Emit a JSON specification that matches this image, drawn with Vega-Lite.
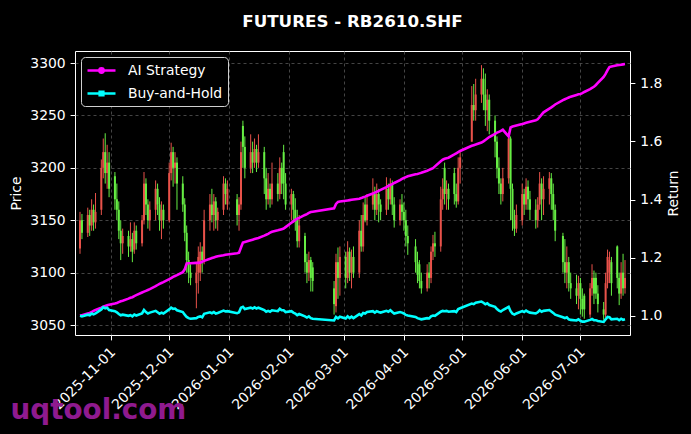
{
  "$schema": "https://vega.github.io/schema/vega-lite/v6.json",
  "width": 555,
  "height": 284,
  "autosize": {"type": "none"},
  "padding": {"left": 75, "top": 51, "right": 61, "bottom": 99},
  "background": "#000000",
  "title": {"text": "FUTURES - RB2610.SHF", "color": "#ffffff", "fontSize": 16.7, "fontWeight": "bold", "font": "DejaVu Sans", "anchor": "middle", "frame": "group", "baseline": "alphabetic", "offset": 7},
  "config": {
    "view": {"stroke": "#ffffff", "strokeWidth": 1},
    "font": "DejaVu Sans",
    "axis": {"labelColor": "#ffffff", "titleColor": "#ffffff", "tickColor": "#ffffff", "domain": false, "labelFont": "DejaVu Sans", "titleFont": "DejaVu Sans", "labelFontSize": 13.9, "titleFontSize": 13.9, "titleFontWeight": "normal", "tickSize": 4.9, "labelPadding": 4.9, "gridColor": "#555555", "gridDash": [3, 3], "gridWidth": 0.8}
  },
  "datasets": {
    "d": [
      {"d":"2025-10-16","o":3123,"h":3158,"l":3118,"c":3150,"a":1.000,"b":1.000},
      {"d":"2025-10-17","o":3150,"h":3156,"l":3132,"c":3138,"a":1.002,"b":0.998},
      {"d":"2025-10-20","o":3138,"h":3162,"l":3134,"c":3155,"a":1.008,"b":1.004},
      {"d":"2025-10-21","o":3155,"h":3160,"l":3135,"c":3145,"a":1.010,"b":1.002},
      {"d":"2025-10-22","o":3145,"h":3170,"l":3140,"c":3160,"a":1.013,"b":1.008},
      {"d":"2025-10-23","o":3160,"h":3165,"l":3140,"c":3148,"a":1.017,"b":1.005},
      {"d":"2025-10-24","o":3148,"h":3176,"l":3142,"c":3158,"a":1.020,"b":1.008},
      {"d":"2025-10-27","o":3160,"h":3208,"l":3155,"c":3200,"a":1.028,"b":1.022},
      {"d":"2025-10-28","o":3200,"h":3228,"l":3190,"c":3215,"a":1.031,"b":1.030},
      {"d":"2025-10-29","o":3215,"h":3233,"l":3185,"c":3195,"a":1.034,"b":1.026},
      {"d":"2025-10-30","o":3195,"h":3222,"l":3180,"c":3205,"a":1.036,"b":1.028},
      {"d":"2025-10-31","o":3205,"h":3215,"l":3172,"c":3180,"a":1.038,"b":1.020},
      {"d":"2025-11-03","o":3192,"h":3196,"l":3160,"c":3170,"a":1.042,"b":1.016},
      {"d":"2025-11-04","o":3170,"h":3185,"l":3150,"c":3160,"a":1.044,"b":1.012},
      {"d":"2025-11-05","o":3160,"h":3168,"l":3132,"c":3140,"a":1.047,"b":1.006},
      {"d":"2025-11-06","o":3140,"h":3150,"l":3112,"c":3128,"a":1.050,"b":1.002},
      {"d":"2025-11-07","o":3128,"h":3142,"l":3118,"c":3135,"a":1.052,"b":1.004},
      {"d":"2025-11-10","o":3135,"h":3140,"l":3115,"c":3125,"a":1.059,"b":1.000},
      {"d":"2025-11-11","o":3125,"h":3148,"l":3120,"c":3132,"a":1.062,"b":1.002},
      {"d":"2025-11-12","o":3132,"h":3138,"l":3110,"c":3120,"a":1.064,"b":0.998},
      {"d":"2025-11-13","o":3122,"h":3148,"l":3118,"c":3140,"a":1.068,"b":1.004},
      {"d":"2025-11-14","o":3140,"h":3145,"l":3122,"c":3128,"a":1.071,"b":1.001},
      {"d":"2025-11-17","o":3128,"h":3155,"l":3125,"c":3150,"a":1.080,"b":1.008},
      {"d":"2025-11-18","o":3150,"h":3196,"l":3146,"c":3185,"a":1.083,"b":1.020},
      {"d":"2025-11-19","o":3185,"h":3190,"l":3155,"c":3165,"a":1.086,"b":1.013},
      {"d":"2025-11-20","o":3165,"h":3170,"l":3142,"c":3150,"a":1.089,"b":1.008},
      {"d":"2025-11-21","o":3150,"h":3168,"l":3140,"c":3160,"a":1.092,"b":1.011},
      {"d":"2025-11-24","o":3160,"h":3188,"l":3150,"c":3180,"a":1.102,"b":1.017},
      {"d":"2025-11-25","o":3180,"h":3185,"l":3155,"c":3165,"a":1.106,"b":1.012},
      {"d":"2025-11-26","o":3165,"h":3172,"l":3140,"c":3150,"a":1.110,"b":1.007},
      {"d":"2025-11-27","o":3150,"h":3168,"l":3132,"c":3160,"a":1.113,"b":1.011},
      {"d":"2025-11-28","o":3160,"h":3165,"l":3142,"c":3150,"a":1.116,"b":1.008},
      {"d":"2025-12-01","o":3150,"h":3205,"l":3148,"c":3195,"a":1.126,"b":1.022},
      {"d":"2025-12-02","o":3195,"h":3224,"l":3188,"c":3215,"a":1.130,"b":1.028},
      {"d":"2025-12-03","o":3215,"h":3220,"l":3182,"c":3200,"a":1.134,"b":1.024},
      {"d":"2025-12-04","o":3200,"h":3215,"l":3185,"c":3205,"a":1.137,"b":1.025},
      {"d":"2025-12-05","o":3205,"h":3210,"l":3160,"c":3185,"a":1.140,"b":1.019},
      {"d":"2025-12-08","o":3185,"h":3192,"l":3158,"c":3165,"a":1.150,"b":1.013},
      {"d":"2025-12-09","o":3165,"h":3171,"l":3130,"c":3138,"a":1.160,"b":1.004},
      {"d":"2025-12-10","o":3138,"h":3145,"l":3100,"c":3112,"a":1.180,"b":0.996},
      {"d":"2025-12-11","o":3112,"h":3120,"l":3090,"c":3100,"a":1.181,"b":0.992},
      {"d":"2025-12-12","o":3100,"h":3108,"l":3088,"c":3095,"a":1.181,"b":0.990},
      {"d":"2025-12-15","o":3090,"h":3110,"l":3066,"c":3100,"a":1.182,"b":0.992},
      {"d":"2025-12-16","o":3100,"h":3125,"l":3080,"c":3115,"a":1.182,"b":0.996},
      {"d":"2025-12-17","o":3100,"h":3129,"l":3092,"c":3120,"a":1.183,"b":0.998},
      {"d":"2025-12-18","o":3120,"h":3125,"l":3100,"c":3112,"a":1.186,"b":0.995},
      {"d":"2025-12-19","o":3112,"h":3160,"l":3108,"c":3150,"a":1.189,"b":1.007},
      {"d":"2025-12-22","o":3150,"h":3175,"l":3140,"c":3165,"a":1.196,"b":1.012},
      {"d":"2025-12-23","o":3165,"h":3180,"l":3148,"c":3155,"a":1.199,"b":1.009},
      {"d":"2025-12-24","o":3155,"h":3175,"l":3140,"c":3168,"a":1.201,"b":1.013},
      {"d":"2025-12-25","o":3168,"h":3172,"l":3142,"c":3150,"a":1.203,"b":1.008},
      {"d":"2025-12-26","o":3150,"h":3162,"l":3140,"c":3158,"a":1.205,"b":1.010},
      {"d":"2025-12-29","o":3160,"h":3192,"l":3155,"c":3185,"a":1.208,"b":1.018},
      {"d":"2025-12-30","o":3185,"h":3190,"l":3165,"c":3175,"a":1.210,"b":1.015},
      {"d":"2025-12-31","o":3165,"h":3188,"l":3160,"c":3180,"a":1.211,"b":1.016},
      {"d":"2026-01-05","o":3170,"h":3175,"l":3145,"c":3155,"a":1.215,"b":1.009},
      {"d":"2026-01-06","o":3155,"h":3172,"l":3140,"c":3165,"a":1.217,"b":1.012},
      {"d":"2026-01-07","o":3165,"h":3225,"l":3160,"c":3215,"a":1.235,"b":1.028},
      {"d":"2026-01-08","o":3240,"h":3245,"l":3200,"c":3220,"a":1.252,"b":1.031},
      {"d":"2026-01-09","o":3220,"h":3230,"l":3190,"c":3200,"a":1.254,"b":1.023},
      {"d":"2026-01-12","o":3200,"h":3232,"l":3195,"c":3215,"a":1.260,"b":1.028},
      {"d":"2026-01-13","o":3215,"h":3225,"l":3195,"c":3205,"a":1.262,"b":1.025},
      {"d":"2026-01-14","o":3205,"h":3228,"l":3200,"c":3218,"a":1.264,"b":1.029},
      {"d":"2026-01-15","o":3218,"h":3222,"l":3196,"c":3205,"a":1.266,"b":1.025},
      {"d":"2026-01-16","o":3205,"h":3232,"l":3200,"c":3215,"a":1.268,"b":1.028},
      {"d":"2026-01-19","o":3215,"h":3220,"l":3175,"c":3190,"a":1.276,"b":1.020},
      {"d":"2026-01-20","o":3190,"h":3200,"l":3160,"c":3170,"a":1.279,"b":1.014},
      {"d":"2026-01-21","o":3170,"h":3195,"l":3165,"c":3180,"a":1.282,"b":1.017},
      {"d":"2026-01-22","o":3180,"h":3185,"l":3162,"c":3170,"a":1.286,"b":1.014},
      {"d":"2026-01-23","o":3170,"h":3205,"l":3165,"c":3185,"a":1.289,"b":1.019},
      {"d":"2026-01-26","o":3185,"h":3195,"l":3168,"c":3175,"a":1.294,"b":1.016},
      {"d":"2026-01-27","o":3175,"h":3210,"l":3170,"c":3200,"a":1.296,"b":1.024},
      {"d":"2026-01-28","o":3200,"h":3205,"l":3175,"c":3185,"a":1.298,"b":1.019},
      {"d":"2026-01-29","o":3215,"h":3222,"l":3170,"c":3185,"a":1.300,"b":1.019},
      {"d":"2026-01-30","o":3185,"h":3195,"l":3160,"c":3165,"a":1.305,"b":1.013},
      {"d":"2026-02-02","o":3165,"h":3180,"l":3150,"c":3175,"a":1.320,"b":1.016},
      {"d":"2026-02-03","o":3175,"h":3178,"l":3148,"c":3160,"a":1.325,"b":1.011},
      {"d":"2026-02-04","o":3160,"h":3171,"l":3140,"c":3150,"a":1.330,"b":1.008},
      {"d":"2026-02-05","o":3150,"h":3160,"l":3124,"c":3130,"a":1.334,"b":1.002},
      {"d":"2026-02-06","o":3130,"h":3155,"l":3124,"c":3145,"a":1.337,"b":1.006},
      {"d":"2026-02-09","o":3135,"h":3138,"l":3100,"c":3110,"a":1.347,"b":0.998},
      {"d":"2026-02-10","o":3110,"h":3118,"l":3090,"c":3100,"a":1.350,"b":0.994},
      {"d":"2026-02-11","o":3100,"h":3120,"l":3092,"c":3112,"a":1.354,"b":0.998},
      {"d":"2026-02-12","o":3112,"h":3115,"l":3082,"c":3095,"a":1.357,"b":0.992},
      {"d":"2026-02-13","o":3105,"h":3110,"l":3082,"c":3092,"a":1.358,"b":0.990},
      {"d":"2026-02-24","o":3085,"h":3092,"l":3060,"c":3070,"a":1.370,"b":0.984},
      {"d":"2026-02-25","o":3068,"h":3118,"l":3062,"c":3110,"a":1.385,"b":0.996},
      {"d":"2026-02-26","o":3110,"h":3124,"l":3075,"c":3095,"a":1.392,"b":0.991},
      {"d":"2026-02-27","o":3095,"h":3125,"l":3078,"c":3115,"a":1.393,"b":0.997},
      {"d":"2026-03-02","o":3115,"h":3120,"l":3085,"c":3095,"a":1.396,"b":0.991},
      {"d":"2026-03-03","o":3095,"h":3130,"l":3090,"c":3120,"a":1.397,"b":0.998},
      {"d":"2026-03-04","o":3120,"h":3124,"l":3092,"c":3100,"a":1.398,"b":0.992},
      {"d":"2026-03-05","o":3100,"h":3122,"l":3085,"c":3115,"a":1.399,"b":0.997},
      {"d":"2026-03-06","o":3115,"h":3125,"l":3095,"c":3100,"a":1.400,"b":0.992},
      {"d":"2026-03-09","o":3100,"h":3150,"l":3095,"c":3140,"a":1.403,"b":1.006},
      {"d":"2026-03-10","o":3140,"h":3155,"l":3120,"c":3125,"a":1.405,"b":1.001},
      {"d":"2026-03-11","o":3125,"h":3167,"l":3120,"c":3155,"a":1.408,"b":1.010},
      {"d":"2026-03-12","o":3165,"h":3172,"l":3148,"c":3150,"a":1.410,"b":1.008},
      {"d":"2026-03-13","o":3150,"h":3175,"l":3145,"c":3165,"a":1.413,"b":1.013},
      {"d":"2026-03-16","o":3165,"h":3190,"l":3160,"c":3175,"a":1.421,"b":1.016},
      {"d":"2026-03-17","o":3175,"h":3182,"l":3150,"c":3160,"a":1.424,"b":1.011},
      {"d":"2026-03-18","o":3160,"h":3185,"l":3155,"c":3175,"a":1.427,"b":1.016},
      {"d":"2026-03-19","o":3175,"h":3180,"l":3148,"c":3165,"a":1.430,"b":1.013},
      {"d":"2026-03-20","o":3165,"h":3170,"l":3150,"c":3158,"a":1.433,"b":1.011},
      {"d":"2026-03-23","o":3160,"h":3191,"l":3155,"c":3180,"a":1.443,"b":1.017},
      {"d":"2026-03-24","o":3180,"h":3185,"l":3160,"c":3170,"a":1.447,"b":1.014},
      {"d":"2026-03-25","o":3170,"h":3190,"l":3165,"c":3185,"a":1.450,"b":1.019},
      {"d":"2026-03-26","o":3185,"h":3188,"l":3155,"c":3165,"a":1.453,"b":1.013},
      {"d":"2026-03-27","o":3165,"h":3172,"l":3143,"c":3150,"a":1.457,"b":1.008},
      {"d":"2026-03-30","o":3150,"h":3170,"l":3145,"c":3165,"a":1.467,"b":1.013},
      {"d":"2026-03-31","o":3165,"h":3175,"l":3150,"c":3158,"a":1.471,"b":1.011},
      {"d":"2026-04-01","o":3158,"h":3167,"l":3140,"c":3150,"a":1.474,"b":1.008},
      {"d":"2026-04-02","o":3150,"h":3160,"l":3125,"c":3135,"a":1.477,"b":1.003},
      {"d":"2026-04-03","o":3135,"h":3145,"l":3117,"c":3128,"a":1.480,"b":1.001},
      {"d":"2026-04-07","o":3125,"h":3132,"l":3100,"c":3110,"a":1.487,"b":0.996},
      {"d":"2026-04-08","o":3110,"h":3120,"l":3090,"c":3098,"a":1.488,"b":0.992},
      {"d":"2026-04-09","o":3108,"h":3112,"l":3085,"c":3092,"a":1.490,"b":0.990},
      {"d":"2026-04-10","o":3092,"h":3100,"l":3080,"c":3085,"a":1.492,"b":0.988},
      {"d":"2026-04-13","o":3085,"h":3108,"l":3082,"c":3100,"a":1.499,"b":0.992},
      {"d":"2026-04-14","o":3100,"h":3110,"l":3085,"c":3095,"a":1.502,"b":0.991},
      {"d":"2026-04-15","o":3095,"h":3125,"l":3090,"c":3120,"a":1.505,"b":0.998},
      {"d":"2026-04-16","o":3120,"h":3136,"l":3112,"c":3128,"a":1.508,"b":1.001},
      {"d":"2026-04-17","o":3128,"h":3139,"l":3115,"c":3125,"a":1.514,"b":1.000},
      {"d":"2026-04-20","o":3125,"h":3182,"l":3120,"c":3170,"a":1.532,"b":1.014},
      {"d":"2026-04-21","o":3170,"h":3190,"l":3160,"c":3180,"a":1.537,"b":1.017},
      {"d":"2026-04-22","o":3200,"h":3205,"l":3165,"c":3175,"a":1.540,"b":1.016},
      {"d":"2026-04-23","o":3175,"h":3188,"l":3160,"c":3180,"a":1.542,"b":1.017},
      {"d":"2026-04-24","o":3180,"h":3185,"l":3160,"c":3170,"a":1.544,"b":1.014},
      {"d":"2026-04-27","o":3195,"h":3200,"l":3165,"c":3175,"a":1.555,"b":1.016},
      {"d":"2026-04-28","o":3175,"h":3185,"l":3162,"c":3168,"a":1.559,"b":1.013},
      {"d":"2026-04-29","o":3168,"h":3210,"l":3165,"c":3200,"a":1.563,"b":1.023},
      {"d":"2026-04-30","o":3200,"h":3215,"l":3185,"c":3210,"a":1.567,"b":1.026},
      {"d":"2026-05-06","o":3225,"h":3278,"l":3225,"c":3260,"a":1.585,"b":1.042},
      {"d":"2026-05-07","o":3260,"h":3280,"l":3245,"c":3255,"a":1.587,"b":1.040},
      {"d":"2026-05-08","o":3255,"h":3285,"l":3245,"c":3270,"a":1.589,"b":1.045},
      {"d":"2026-05-11","o":3270,"h":3298,"l":3262,"c":3285,"a":1.596,"b":1.049},
      {"d":"2026-05-12","o":3285,"h":3295,"l":3255,"c":3270,"a":1.600,"b":1.045},
      {"d":"2026-05-13","o":3270,"h":3290,"l":3240,"c":3255,"a":1.605,"b":1.040},
      {"d":"2026-05-14","o":3255,"h":3275,"l":3235,"c":3265,"a":1.610,"b":1.043},
      {"d":"2026-05-15","o":3265,"h":3270,"l":3232,"c":3245,"a":1.615,"b":1.037},
      {"d":"2026-05-18","o":3245,"h":3250,"l":3210,"c":3225,"a":1.626,"b":1.031},
      {"d":"2026-05-19","o":3225,"h":3230,"l":3190,"c":3200,"a":1.630,"b":1.023},
      {"d":"2026-05-20","o":3200,"h":3210,"l":3175,"c":3185,"a":1.633,"b":1.018},
      {"d":"2026-05-21","o":3185,"h":3190,"l":3165,"c":3175,"a":1.636,"b":1.015},
      {"d":"2026-05-22","o":3175,"h":3200,"l":3168,"c":3190,"a":1.640,"b":1.020},
      {"d":"2026-05-25","o":3190,"h":3234,"l":3185,"c":3228,"a":1.617,"b":1.031},
      {"d":"2026-05-26","o":3228,"h":3230,"l":3150,"c":3180,"a":1.648,"b":1.016},
      {"d":"2026-05-27","o":3180,"h":3185,"l":3140,"c":3150,"a":1.651,"b":1.007},
      {"d":"2026-05-28","o":3150,"h":3160,"l":3135,"c":3142,"a":1.653,"b":1.004},
      {"d":"2026-05-29","o":3142,"h":3165,"l":3138,"c":3155,"a":1.655,"b":1.008},
      {"d":"2026-06-01","o":3150,"h":3185,"l":3145,"c":3175,"a":1.660,"b":1.016},
      {"d":"2026-06-02","o":3175,"h":3180,"l":3155,"c":3165,"a":1.662,"b":1.013},
      {"d":"2026-06-03","o":3165,"h":3190,"l":3160,"c":3182,"a":1.664,"b":1.018},
      {"d":"2026-06-04","o":3182,"h":3188,"l":3160,"c":3170,"a":1.666,"b":1.014},
      {"d":"2026-06-05","o":3170,"h":3178,"l":3150,"c":3160,"a":1.668,"b":1.011},
      {"d":"2026-06-08","o":3160,"h":3170,"l":3142,"c":3150,"a":1.673,"b":1.008},
      {"d":"2026-06-09","o":3150,"h":3172,"l":3143,"c":3165,"a":1.676,"b":1.012},
      {"d":"2026-06-10","o":3165,"h":3196,"l":3160,"c":3185,"a":1.684,"b":1.019},
      {"d":"2026-06-11","o":3185,"h":3190,"l":3150,"c":3170,"a":1.692,"b":1.014},
      {"d":"2026-06-12","o":3170,"h":3192,"l":3155,"c":3180,"a":1.700,"b":1.017},
      {"d":"2026-06-15","o":3180,"h":3196,"l":3165,"c":3190,"a":1.713,"b":1.020},
      {"d":"2026-06-16","o":3190,"h":3195,"l":3160,"c":3175,"a":1.717,"b":1.015},
      {"d":"2026-06-17","o":3175,"h":3185,"l":3150,"c":3160,"a":1.722,"b":1.010},
      {"d":"2026-06-18","o":3160,"h":3165,"l":3130,"c":3140,"a":1.727,"b":1.004},
      {"d":"2026-06-22","o":3135,"h":3138,"l":3100,"c":3110,"a":1.742,"b":0.995},
      {"d":"2026-06-23","o":3110,"h":3132,"l":3090,"c":3100,"a":1.745,"b":0.992},
      {"d":"2026-06-24","o":3100,"h":3125,"l":3085,"c":3110,"a":1.748,"b":0.995},
      {"d":"2026-06-25","o":3110,"h":3115,"l":3082,"c":3090,"a":1.751,"b":0.988},
      {"d":"2026-06-26","o":3090,"h":3100,"l":3075,"c":3085,"a":1.754,"b":0.986},
      {"d":"2026-06-29","o":3085,"h":3098,"l":3070,"c":3078,"a":1.760,"b":0.984},
      {"d":"2026-06-30","o":3078,"h":3097,"l":3065,"c":3090,"a":1.762,"b":0.988},
      {"d":"2026-07-01","o":3090,"h":3095,"l":3060,"c":3075,"a":1.763,"b":0.983},
      {"d":"2026-07-02","o":3075,"h":3085,"l":3058,"c":3065,"a":1.766,"b":0.980},
      {"d":"2026-07-03","o":3078,"h":3080,"l":3056,"c":3065,"a":1.770,"b":0.980},
      {"d":"2026-07-06","o":3060,"h":3090,"l":3057,"c":3085,"a":1.780,"b":0.986},
      {"d":"2026-07-07","o":3085,"h":3108,"l":3078,"c":3095,"a":1.784,"b":0.989},
      {"d":"2026-07-08","o":3095,"h":3102,"l":3070,"c":3080,"a":1.788,"b":0.985},
      {"d":"2026-07-09","o":3095,"h":3100,"l":3075,"c":3080,"a":1.794,"b":0.985},
      {"d":"2026-07-10","o":3080,"h":3088,"l":3062,"c":3070,"a":1.801,"b":0.982},
      {"d":"2026-07-13","o":3065,"h":3072,"l":3055,"c":3060,"a":1.822,"b":0.979},
      {"d":"2026-07-14","o":3060,"h":3100,"l":3057,"c":3090,"a":1.832,"b":0.988},
      {"d":"2026-07-15","o":3090,"h":3122,"l":3085,"c":3115,"a":1.845,"b":0.996},
      {"d":"2026-07-16","o":3100,"h":3120,"l":3090,"c":3112,"a":1.856,"b":0.995},
      {"d":"2026-07-17","o":3110,"h":3115,"l":3078,"c":3090,"a":1.858,"b":0.988},
      {"d":"2026-07-20","o":3125,"h":3126,"l":3085,"c":3095,"a":1.862,"b":0.990},
      {"d":"2026-07-21","o":3095,"h":3100,"l":3069,"c":3080,"a":1.863,"b":0.985},
      {"d":"2026-07-22","o":3080,"h":3110,"l":3075,"c":3100,"a":1.864,"b":0.990},
      {"d":"2026-07-23","o":3100,"h":3118,"l":3078,"c":3085,"a":1.865,"b":0.986},
      {"d":"2026-07-24","o":3085,"h":3112,"l":3080,"c":3095,"a":1.866,"b":0.988}
    ]
  },
  "data": {"name": "d"},
  "encoding": {
    "x": {"field": "d", "type": "temporal", "scale": {"type": "utc", "domain": [{"year": 2025, "month": 10, "date": 16, "utc": true}, {"year": 2026, "month": 7, "date": 24, "utc": true}]}, "axis": {"title": "uqtool.com", "titleColor": "#8f1a8f", "titleFontSize": 27.8, "titleFontWeight": "bold", "titleAlign": "left", "titleAnchor": "start", "titleBaseline": "alphabetic", "titleX": -65, "titleY": 83, "labelExpr": "utcFormat(datum.value, '%Y-%m-%d')", "labelAngle": -45, "labelOffset": -3, "labelOverlap": false, "labelFlush": false, "grid": true, "values": [{"year": 2025, "month": 11, "date": 1, "utc": true}, {"year": 2025, "month": 12, "date": 1, "utc": true}, {"year": 2026, "month": 1, "date": 1, "utc": true}, {"year": 2026, "month": 2, "date": 1, "utc": true}, {"year": 2026, "month": 3, "date": 1, "utc": true}, {"year": 2026, "month": 4, "date": 1, "utc": true}, {"year": 2026, "month": 5, "date": 1, "utc": true}, {"year": 2026, "month": 6, "date": 1, "utc": true}, {"year": 2026, "month": 7, "date": 1, "utc": true}]}}
  },
  "layer": [
    {
      "encoding": {
        "y": {"field": "l", "type": "quantitative", "scale": {"domain": [3040.5, 3311.5], "zero": false, "nice": false}, "axis": {"title": "Price", "orient": "left", "grid": true, "format": "d", "values": [3050, 3100, 3150, 3200, 3250, 3300], "titlePadding": 6}},
        "color": {"condition": {"test": "datum.c >= datum.o", "value": "#e8524a"}, "value": "#66ee44"}
      },
      "layer": [
        {
          "mark": {"type": "rule", "clip": true, "strokeWidth": 1},
          "encoding": {"y2": {"field": "h"}}
        },
        {
          "mark": {"type": "bar", "clip": true, "size": 2},
          "encoding": {
            "y": {"field": "o", "type": "quantitative", "scale": {"domain": [3040.5, 3311.5], "zero": false, "nice": false}, "axis": {"title": "Price", "orient": "left", "grid": true, "format": "d", "values": [3050, 3100, 3150, 3200, 3250, 3300], "titlePadding": 6}},
            "y2": {"field": "c"}
          }
        }
      ]
    },
    {
      "transform": [{"fold": ["a", "b"], "as": ["k", "v"]}],
      "mark": {"type": "line", "strokeWidth": 2.6, "clip": true},
      "encoding": {
        "y": {"field": "v", "type": "quantitative", "scale": {"domain": [0.934, 1.911], "zero": false, "nice": false}, "axis": {"title": "Return", "orient": "right", "grid": false, "values": [1.0, 1.2, 1.4, 1.6, 1.8], "format": ".1f", "titleAngle": 270, "titleBaseline": "top", "titlePadding": 5}},
        "color": {
          "field": "k", "type": "nominal",
          "scale": {"domain": ["a", "b"], "range": ["#ff00ff", "#00ffff"]},
          "legend": {
            "title": null, "orient": "top-left", "offset": 6,
            "labelExpr": "datum.value == 'a' ? 'AI Strategy' : 'Buy-and-Hold'",
            "labelColor": "#ffffff", "labelFontSize": 13.9, "labelFont": "DejaVu Sans", "labelOffset": 18,
            "fillColor": "#000000", "strokeColor": "#d0d0d0", "cornerRadius": 4, "padding": 5, "rowPadding": 7,
            "symbolSize": 196, "symbolOffset": 7, "symbolStrokeWidth": 2.6, "symbolType": "M-2,0H2",
            "encode": {"symbols": {"update": {"shape": {"signal": "datum.value == 'a' ? 'M-2,0H2M-0.3,0A0.3,0.3,0,1,1,0.3,0A0.3,0.3,0,1,1,-0.3,0' : 'M-2,0H2M-0.26,-0.26H0.26V0.26H-0.26Z'"}}}}
          }
        }
      }
    }
  ],
  "resolve": {"scale": {"y": "independent"}, "axis": {"y": "independent"}}
}
